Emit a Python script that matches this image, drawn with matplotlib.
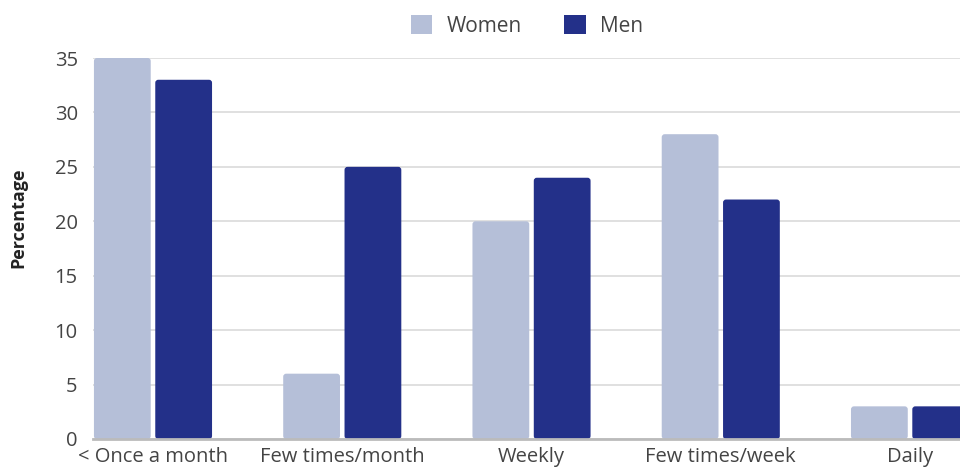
import matplotlib

matplotlib.use("Agg")
import matplotlib.pyplot as plt
from matplotlib.patches import FancyBboxPatch, Patch

categories = ["< Once a month", "Few times/month", "Weekly", "Few times/week", "Daily"]
women = [35, 6, 20, 28, 3]
men = [33, 25, 24, 22, 3]
yticks = [0, 5, 10, 15, 20, 25, 30, 35]

WOMEN_COLOR = "#b5bfd8"
MEN_COLOR = "#233089"
TEXT_COLOR = "#444444"

plt.rcParams["font.family"] = ["Open Sans", "DejaVu Sans"]

fig = plt.figure(figsize=(9.6, 4.68), dpi=100)
ax = fig.add_axes([93 / 960, 29 / 468, 1 - 93 / 960, (439 - 58) / 468])

width = 0.30
offset = 0.162
xlim = (-0.317, 4.264)
ylim = (0, 35)
ax.set_xlim(*xlim)
ax.set_ylim(*ylim)

# rounding radius of ~3px, expressed in data units for each axis
px_x = (xlim[1] - xlim[0]) / (960 - 93)
px_y = (ylim[1] - ylim[0]) / (439 - 58)
r = 3 * px_x
aspect = px_y / px_x

for i, (w, m) in enumerate(zip(women, men)):
    for val, dx, color in ((w, -offset, WOMEN_COLOR), (m, offset, MEN_COLOR)):
        box = FancyBboxPatch(
            (i + dx - width / 2, 0), width, val,
            boxstyle=f"round,pad=0,rounding_size={r}",
            mutation_aspect=aspect,
            facecolor=color, edgecolor="none", zorder=3,
        )
        ax.add_patch(box)

ax.set_yticks(yticks)
ax.set_xticks(range(len(categories)))
ax.set_xticklabels(categories)
ax.grid(axis="y", color="#e0e0e0", linewidth=1.4, zorder=0)
ax.set_axisbelow(True)
for side in ("top", "right", "left"):
    ax.spines[side].set_visible(False)
ax.spines["bottom"].set_color("#bbbbbb")
ax.spines["bottom"].set_linewidth(2)
ax.spines["bottom"].set_zorder(4)
ax.tick_params(axis="both", length=0, labelsize=14.5, colors=TEXT_COLOR)
ax.tick_params(axis="y", pad=11)
ax.tick_params(axis="x", pad=6)

fig.text(18 / 960, 1 - 218 / 468, "Percentage", rotation=90, fontsize=13,
         fontweight="bold", color="#222222", ha="center", va="center")

handles = [Patch(facecolor=WOMEN_COLOR), Patch(facecolor=MEN_COLOR)]
fig.legend(handles, ["Women", "Men"], loc="center", bbox_to_anchor=(527 / 960, 1 - 26 / 468),
           ncol=2, frameon=False, fontsize=15, handlelength=1.05, handleheight=1.05,
           handletextpad=0.7, columnspacing=2.0, labelcolor=TEXT_COLOR)

fig.savefig("out.png", dpi=100)
